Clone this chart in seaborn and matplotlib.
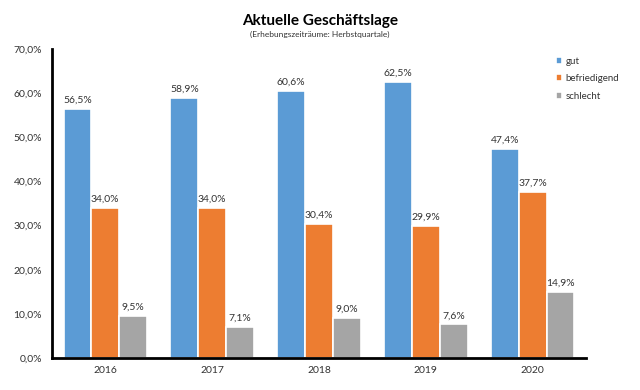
import pandas as pd
import numpy as np
import matplotlib.pyplot as plt
import seaborn as sns

years = ['2016', '2017', '2018', '2019', '2020']
gut = [56.5, 58.9, 60.6, 62.5, 47.4]
befriedigend = [34.0, 34.0, 30.4, 29.9, 37.7]
schlecht = [9.5, 7.1, 9.0, 7.6, 14.9]
series_names = ['gut', 'befriedigend', 'schlecht']
colors = ['#5B9BD5', '#ED7D31', '#A5A5A5']

df = pd.DataFrame({
    'year': years * 3,
    'value': gut + befriedigend + schlecht,
    'series': [s for s in series_names for _ in years],
})

sns.set_theme(style="white")
plt.rcParams['font.family'] = ['Lato', 'DejaVu Sans']

fig = plt.figure(figsize=(6.4, 3.9), dpi=100)
ax = fig.add_axes([0.081, 0.082, 0.835, 0.792])

sns.barplot(data=df, x='year', y='value', hue='series', palette=colors, saturation=1,
            width=0.78, edgecolor='white', linewidth=1.2, ax=ax, legend=True)

for cont in ax.containers:
    ax.bar_label(cont, labels=[f"{v:.1f}%".replace('.', ',') for v in cont.datavalues],
                 padding=3, fontsize=7.5, color='#333333')

ax.set_ylim(0, 70)
ax.set_xlim(-0.5, 4.5)
ax.set_yticks(np.arange(0, 71, 10))
ax.set_yticklabels([f"{v:.1f}%".replace('.', ',') for v in np.arange(0, 71, 10)],
                   fontsize=7.5, color='#333333')
ax.tick_params(axis='x', which='major', length=0, labelsize=7.5, labelcolor='#333333', pad=6)
ax.set_xticks(np.arange(-0.5, 5, 1), minor=True)
ax.tick_params(axis='x', which='minor', length=3, width=1.2, color='black', direction='out')
ax.tick_params(axis='y', length=3, width=1.2, color='black', direction='out', pad=4)
ax.set_xlabel('')
ax.set_ylabel('')

for s in ['top', 'right']:
    ax.spines[s].set_visible(False)
for s in ['left', 'bottom']:
    ax.spines[s].set_color('black')
    ax.spines[s].set_linewidth(2)

leg = ax.legend(loc='upper left', bbox_to_anchor=(0.862, 0.865), bbox_transform=fig.transFigure,
                frameon=False, fontsize=7, handlelength=0.7, handleheight=0.7,
                handletextpad=0.3, labelspacing=0.9, borderaxespad=0)
for t in leg.get_texts():
    t.set_color('#333333')

fig.text(0.5, 0.945, 'Aktuelle Geschäftslage', ha='center', va='center',
         fontsize=11, fontweight='bold', color='black')
fig.text(0.5, 0.912, '(Erhebungszeiträume: Herbstquartale)', ha='center', va='center',
         fontsize=6, color='#333333')

plt.savefig('out.png', dpi=100, facecolor='white')
plt.close()
